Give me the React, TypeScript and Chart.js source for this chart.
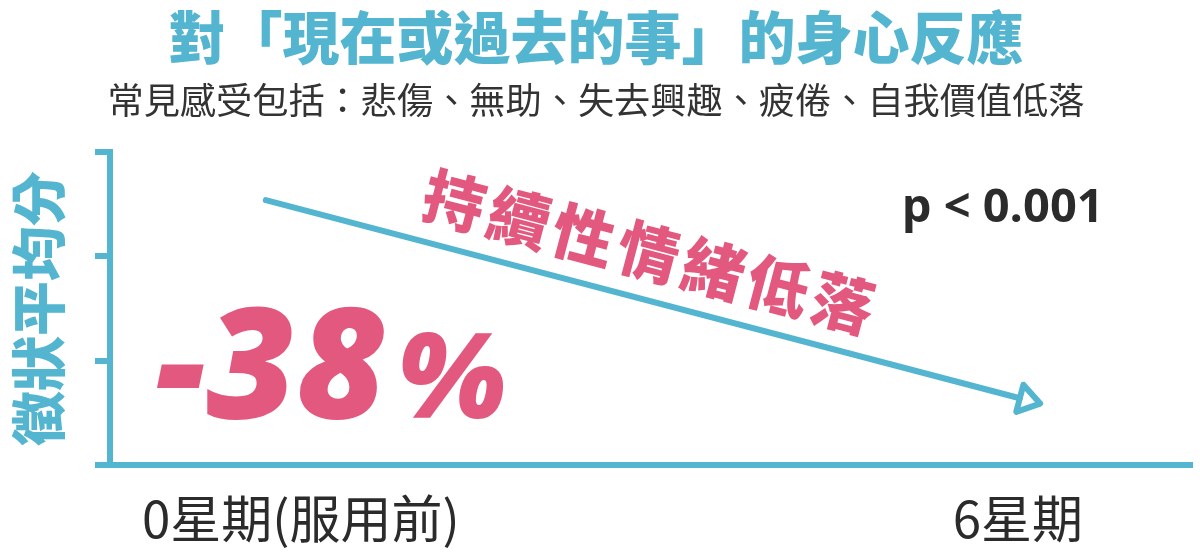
import React, { useRef, useEffect } from 'react';
import { Chart, registerables, Plugin } from 'chart.js';

Chart.register(...registerables);

// semanas y puntuación media de síntomas
const weeks = [0, 6];
const scores = [2.54, 0.64];
const weekLabels = ['0星期(服用前)', '6星期'];
const yTicks = [0, 1, 2, 3];

const titleText = '對「現在或過去的事」的身心反應';
const subtitleText = '常見感受包括：悲傷、無助、失去興趣、疲倦、自我價值低落';
const yTitle = '徵狀平均分';
const trendText = '持續性情緒低落';
const changeText = '-38';
const pctText = '%';
const pText = 'p < 0.001';

const BLUE = '#53B5D0';
const PINK = '#E3587E';
const DARK = '#2B2B2B';
const CJK = '"Noto Sans CJK TC", "Noto Sans", sans-serif';
const LATIN = '"Open Sans", "Noto Sans", sans-serif';

// desplazamiento horizontal de cada etiqueta del eje x
const labelShift = [35, -2];

const annotate: Plugin<'line'> = {
  id: 'annotate',
  afterDatasetsDraw(chart) {
    const { ctx, chartArea } = chart;
    const x = chart.scales.x;
    const y = chart.scales.y;
    const pts = chart.getDatasetMeta(0).data;
    const a = pts[pts.length - 2];
    const b = pts[pts.length - 1];
    const ang = Math.atan2(b.y - a.y, b.x - a.x);

    // punta de flecha abierta
    ctx.save();
    ctx.translate(b.x, b.y);
    ctx.rotate(ang);
    ctx.beginPath();
    ctx.moveTo(0, -14);
    ctx.lineTo(21, 0);
    ctx.lineTo(0, 14);
    ctx.closePath();
    ctx.lineWidth = 6;
    ctx.lineJoin = 'round';
    ctx.strokeStyle = BLUE;
    ctx.stroke();
    ctx.restore();

    // texto inclinado sobre la línea
    const t = 0.495;
    const d = 47;
    const cx = a.x + (b.x - a.x) * t + Math.sin(ang) * d;
    const cy = a.y + (b.y - a.y) * t - Math.cos(ang) * d;
    ctx.save();
    ctx.translate(cx, cy);
    ctx.rotate(ang);
    ctx.font = `900 62px ${CJK}`;
    (ctx as any).letterSpacing = '5px';
    ctx.fillStyle = PINK;
    ctx.textAlign = 'center';
    ctx.textBaseline = 'middle';
    ctx.fillText(trendText, 0, 0);
    ctx.restore();

    // -38%
    ctx.save();
    ctx.fillStyle = PINK;
    ctx.textAlign = 'left';
    ctx.textBaseline = 'alphabetic';
    ctx.font = `italic 800 155px ${LATIN}`;
    const px = x.getPixelForValue(-0.88);
    const py = y.getPixelForValue(0.45);
    ctx.fillText(changeText, px, py);
    const w = ctx.measureText(changeText).width;
    ctx.font = `italic 800 118px ${LATIN}`;
    ctx.fillText(pctText, px + w + 10, py);
    ctx.restore();

    // p valor
    ctx.save();
    ctx.fillStyle = DARK;
    ctx.font = `700 47px ${LATIN}`;
    ctx.textAlign = 'left';
    ctx.textBaseline = 'alphabetic';
    ctx.fillText(pText, x.getPixelForValue(5.06), y.getPixelForValue(2.33));
    ctx.restore();

    // etiquetas del eje x
    ctx.save();
    ctx.fillStyle = DARK;
    ctx.font = `400 51px ${CJK}`;
    ctx.textAlign = 'center';
    ctx.textBaseline = 'middle';
    weeks.forEach((wk, i) => {
      ctx.fillText(weekLabels[i], x.getPixelForValue(wk) + labelShift[i], chartArea.bottom + 54);
    });
    ctx.restore();
  },
};

const SymptomChart: React.FC = () => {
  const chartRef = useRef<HTMLCanvasElement | null>(null);

  useEffect(() => {
    if (!chartRef.current) return;
    const ctx = chartRef.current.getContext('2d');
    if (!ctx) return;

    const chart = new Chart(ctx, {
      type: 'line',
      data: {
        datasets: [
          {
            data: weeks.map((w, i) => ({ x: w, y: scores[i] })),
            borderColor: BLUE,
            borderWidth: 6,
            pointRadius: 0,
            borderCapStyle: 'round',
          },
        ],
      },
      options: {
        responsive: false,
        animation: false,
        layout: { padding: { top: 0, left: 0, right: 8, bottom: 89 } },
        plugins: {
          legend: { display: false },
          tooltip: { enabled: false },
          title: {
            display: true,
            text: titleText,
            color: BLUE,
            font: { family: CJK, size: 57, weight: 900, lineHeight: 1 },
            padding: { top: 9, bottom: 0 },
          },
          subtitle: {
            display: true,
            text: subtitleText,
            color: '#333333',
            font: { family: CJK, size: 36.2, weight: 400, lineHeight: 1 },
            padding: { top: 16, bottom: 34 },
          },
        },
        scales: {
          x: {
            type: 'linear',
            min: -1.24,
            max: 7.37,
            grid: { display: false, drawTicks: false },
            ticks: { display: false },
            border: { display: true, color: BLUE, width: 6 },
          },
          y: {
            min: 0,
            max: 3,
            afterBuildTicks: (scale) => {
              scale.ticks = yTicks.map((v) => ({ value: v }));
            },
            ticks: { display: false },
            grid: {
              drawOnChartArea: false,
              drawTicks: true,
              tickLength: 15,
              color: BLUE,
              lineWidth: 6,
            },
            border: { display: true, color: BLUE, width: 6 },
            title: {
              display: true,
              text: yTitle,
              color: BLUE,
              font: { family: CJK, size: 55, weight: 900, lineHeight: 1.1 },
              padding: { top: 7.75, bottom: 26.75 },
            },
          },
        },
      },
      plugins: [annotate],
    });

    return () => {
      chart.destroy();
    };
  }, []);

  return <canvas ref={chartRef} width={1200} height={554} />;
};

export default function App() {
  return (
    <div style={{ position: 'fixed', left: 0, top: 0, width: 1200, height: 554, background: '#fff' }}>
      <SymptomChart />
    </div>
  );
}
